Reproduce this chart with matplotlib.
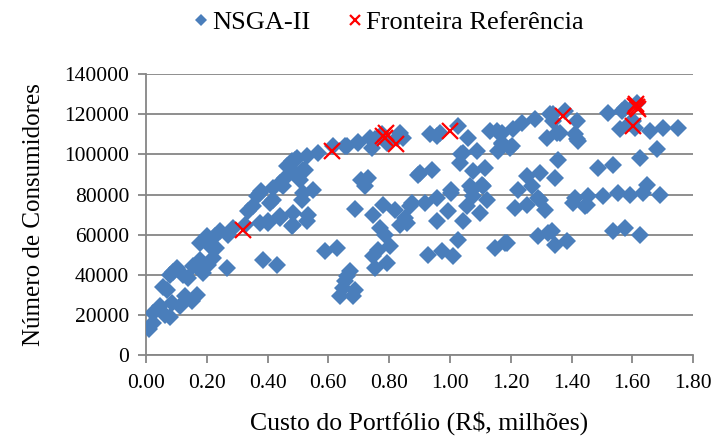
import numpy as np
import matplotlib
matplotlib.use("Agg")
import matplotlib.pyplot as plt
from matplotlib.ticker import FormatStrFormatter, MultipleLocator

# Dados: custo (R$ milhões) x número de consumidores
custo_nsga = [
    0.011, 0.024, 0.024, 0.046, 0.063, 0.079, 0.085, 0.112, 0.128, 0.150, 0.167,
    0.068, 0.057, 0.079, 0.090, 0.101, 0.123, 0.139, 0.156, 0.178, 0.189, 0.205,
    0.221, 0.178, 0.200, 0.211, 0.232, 0.227, 0.243, 0.271, 0.287, 0.265, 0.326,
    0.337, 0.353, 0.364, 0.380, 0.375, 0.375, 0.402, 0.386, 0.430, 0.419, 0.419,
    0.441, 0.441, 0.408, 0.402, 0.441, 0.452, 0.457, 0.463, 0.479, 0.490, 0.479,
    0.485, 0.490, 0.507, 0.523, 0.529, 0.550, 0.517, 0.512, 0.534, 0.529, 0.485,
    0.496, 0.517, 0.567, 0.616, 0.660, 0.698, 0.655,
    0.709, 0.731, 0.720, 0.742, 0.753, 0.775, 0.792, 0.825, 0.836, 0.847, 0.737,
    0.698, 0.589, 0.627, 0.688, 0.671, 0.660, 0.655, 0.688, 0.649, 0.638, 0.682,
    0.748, 0.781, 0.819, 0.770, 0.786, 0.803, 0.764, 0.748, 0.753, 0.792, 0.836,
    0.868, 0.858, 0.852, 0.874, 0.896, 0.940, 0.901, 0.918, 0.956, 0.956, 0.995,
    1.005, 1.005, 1.027, 1.044, 1.055, 1.071, 1.077, 1.099, 1.121, 1.110, 1.066,
    1.104, 1.077, 1.115, 1.088, 1.038, 1.033, 1.044, 1.060, 0.934, 0.956, 0.967,
    1.027, 1.132, 1.154, 1.170, 1.159, 1.197, 0.929, 0.973, 1.011, 1.148, 1.187,
    1.170, 1.208, 1.236, 1.280, 1.329, 1.340, 1.378, 1.340, 1.362, 1.318, 1.417,
    1.411, 1.417, 1.170, 1.203, 1.357, 1.345, 1.296, 1.252, 1.269, 1.225, 1.291,
    1.252, 1.214, 1.313, 1.296, 1.181, 1.291, 1.324, 1.345, 1.384, 1.335, 1.405,
    1.411, 1.450, 1.455, 1.444, 1.488, 1.537, 1.504, 1.553, 1.592, 1.635, 1.647,
    1.691, 1.625, 1.680, 1.537, 1.576, 1.625, 1.521, 1.565, 1.576, 1.614, 1.603,
    1.609, 1.559, 1.592, 1.658, 1.702, 1.751, 1.422, 1.351,
]
consumidores_nsga = [
    12850, 15850, 20850, 24200, 20000, 19200, 25800, 24200, 29200, 26700, 30000,
    32500, 34000, 40000, 41500, 43300, 40000, 38300, 44200, 47500, 40800, 45000,
    48300, 55800, 59200, 54200, 53300, 59200, 61700, 60000, 63300, 43300, 65000,
    71700, 74200, 79200, 81700, 80800, 65800, 65800, 47500, 45000, 77500, 83300,
    85800, 68300, 75800, 66700, 69200, 84200, 88300, 94200, 96700, 90800, 64200,
    70800, 97500, 87500, 92500, 99200, 82500, 80800, 77500, 70000, 66700, 65000,
    98300, 92500, 100800, 104200, 104200, 106200, 104200,
    87500, 88300, 84200, 103300, 107500, 110000, 105800, 108300, 110800, 108300, 108300,
    105800, 51700, 53300, 72800, 41700, 39200, 36700, 32500, 33300, 29200, 29200,
    70000, 75000, 72500, 63300, 60000, 54200, 52500, 49200, 43300, 45800, 65000,
    74200, 65800, 68300, 75800, 90000, 92500, 90800, 75800, 78300, 66700, 71700,
    80800, 82500, 57500, 66700, 74200, 82500, 79200, 70800, 77500, 84200, 84200,
    85000, 91700, 93300, 101700, 100000, 95800, 100800, 108300, 110000, 109200, 110800,
    114200, 111700, 111700, 105800, 101700, 103300, 50000, 51700, 49200, 53300, 55800,
    110800, 112500, 115800, 117500, 120000, 120000, 121700, 116700, 110800, 108300, 116700,
    110000, 107500, 105000, 104200, 97500, 88300, 90800, 89200, 84200, 82500, 78300,
    75000, 73300, 72500, 77500, 55800, 59200, 60800, 55000, 56700, 61700, 75800,
    78300, 75000, 79200, 74200, 93300, 95000, 79200, 80800, 80000, 80800, 85000,
    80000, 98300, 102500, 61700, 63300, 60000, 120800, 121700, 123300, 125500, 116700,
    113300, 112500, 115800, 111700, 113300, 113000, 106700, 110800,
]
custo_ref = [0.320, 0.611, 0.781, 0.790, 0.786, 0.822, 1.000, 1.373, 1.603, 1.609, 1.620, 1.615, 1.612]
consumidores_ref = [62500, 101700, 109200, 110800, 108000, 105000, 111700, 119200, 114200, 124200, 122500, 123500, 125000]

plt.rcParams['font.family'] = ['Liberation Serif', 'DejaVu Serif']

fig = plt.figure(figsize=(7.19, 4.37), dpi=100)
ax = fig.add_axes([0.203, 0.1876, 0.761, 0.6424])

azul = '#4A7EBB'
cinza = '#868686'

ax.plot(custo_nsga, consumidores_nsga, linestyle='none', marker='D', ms=8.8,
        color=azul, markeredgewidth=0, label='NSGA-II', zorder=3)
ax.plot(custo_ref, consumidores_ref, linestyle='none', marker='x', ms=11,
        color='#FF0000', markeredgewidth=1.6, label='Fronteira Referência', zorder=4)

ax.set_xlim(0, 1.8)
ax.set_ylim(0, 140000)
ax.xaxis.set_major_locator(MultipleLocator(0.2))
ax.yaxis.set_major_locator(MultipleLocator(20000))
ax.xaxis.set_major_formatter(FormatStrFormatter('%.2f'))
ax.yaxis.set_major_formatter(FormatStrFormatter('%d'))

ax.grid(True, axis='y', color=cinza, linewidth=1.3, zorder=0)
ax.set_axisbelow(True)
for lado in ['top', 'right']:
    ax.spines[lado].set_visible(False)
for lado in ['left', 'bottom']:
    ax.spines[lado].set_color(cinza)
    ax.spines[lado].set_linewidth(1.3)
ax.tick_params(axis='both', colors=cinza, length=6, width=1.3, labelsize=15.5,
               labelcolor='black', direction='out')
ax.tick_params(axis='x', pad=8)
ax.tick_params(axis='y', pad=6)

ax.set_xlabel('Custo do Portfólio (R$, milhões)', fontsize=18.5, labelpad=13)
ax.set_ylabel('Número de Consumidores', fontsize=18, labelpad=14)

fig.legend(loc='upper center', bbox_to_anchor=(0.54, 1.03), ncol=2, frameon=False,
           fontsize=19, handlelength=0.6, handletextpad=0.1, columnspacing=1.4,
           markerscale=0.7)

fig.savefig('out.png', dpi=100)
